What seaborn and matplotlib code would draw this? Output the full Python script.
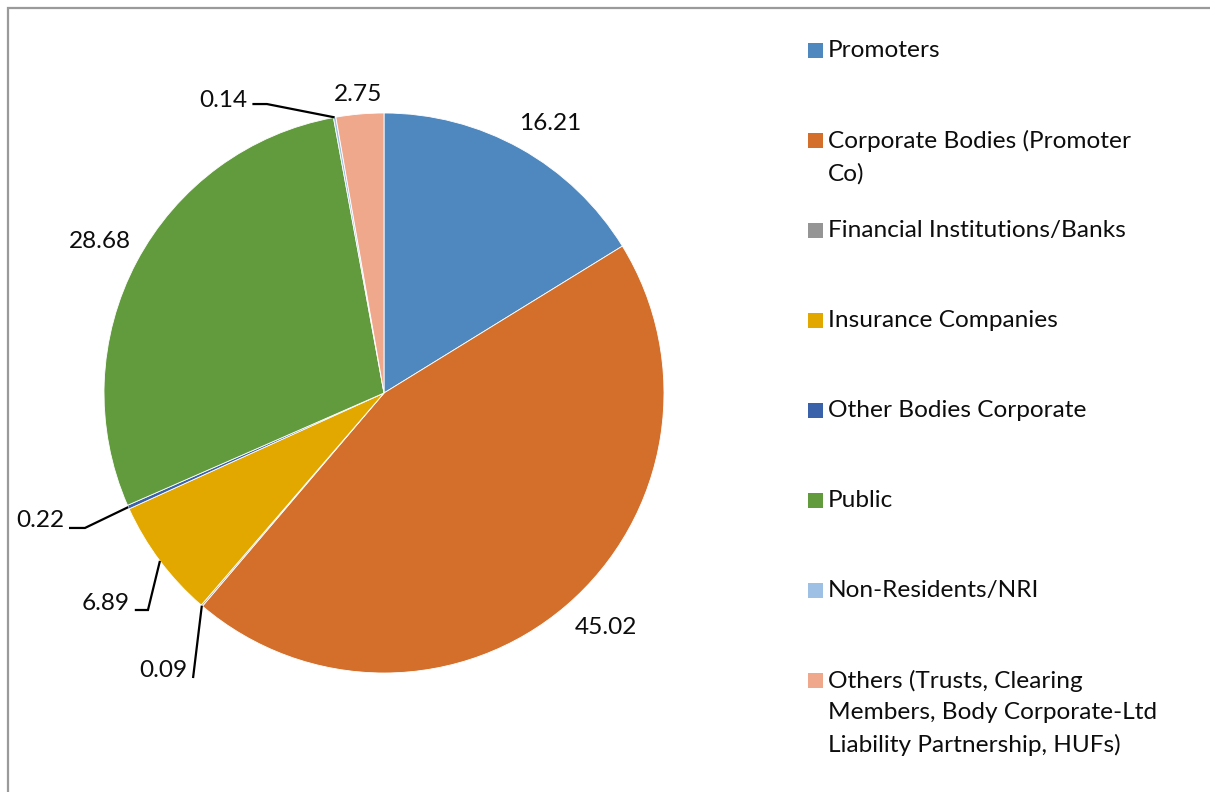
import matplotlib
matplotlib.use("Agg")
import matplotlib.pyplot as plt
from matplotlib.patches import Rectangle
import numpy as np
import seaborn as sns

# shareholding pattern (%)
categories = [
    "Promoters",
    "Corporate Bodies (Promoter\nCo)",
    "Financial Institutions/Banks",
    "Insurance Companies",
    "Other Bodies Corporate",
    "Public",
    "Non-Residents/NRI",
    "Others (Trusts, Clearing\nMembers, Body Corporate-Ltd\nLiability Partnership, HUFs)",
]
shares = [16.21, 45.02, 0.09, 6.89, 0.22, 28.68, 0.14, 2.75]
value_labels = ["16.21", "45.02", "0.09", "6.89", "0.22", "28.68", "0.14", "2.75"]

colors = ["#4F88BF", "#D46F2B", "#959595", "#E3A800",
          "#3A62AB", "#629B3E", "#9DC0E4", "#F0A88C"]

sns.set_theme(style="white")
plt.rcParams["font.family"] = ["Lato", "DejaVu Sans"]

W, H = 1210, 792
fig = plt.figure(figsize=(W / 100, H / 100), dpi=100)
fig.patch.set_facecolor("white")

# pie axes: center at (384, 393) px, radius 280 px
cx, cy, rpx = 384, 393, 280
half = 384
ax = fig.add_axes([(cx - half) / W, (H - cy - half) / H, 2 * half / W, 2 * half / H])
wedges, _ = ax.pie(shares, colors=colors, startangle=90, counterclock=False,
                   radius=1.0, wedgeprops=dict(edgecolor="white", linewidth=0.6))
lim = half / rpx
ax.set_xlim(-lim, lim)
ax.set_ylim(-lim, lim)
ax.set_aspect("auto")
ax.axis("off")

fs = 17.6
txt_col = "#0d0d0d"
# outside-end labels for the larger slices: (radius, angle shift in degrees)
label_pos = {0: (1.13, -2.5), 1: (1.155, 2.8), 5: (1.15, 0.0), 7: (1.07, 0.0)}
for i, (r, dth) in label_pos.items():
    w = wedges[i]
    th = np.deg2rad((w.theta1 + w.theta2) / 2 + dth)
    ax.text(r * np.cos(th), r * np.sin(th), value_labels[i], ha="center", va="center",
            fontsize=fs, color=txt_col)

# leader-line labels for the tiny slices: (text right end, knee) in pie units
leaders = {
    6: ((-0.487, 1.046), (-0.418, 1.032)),
    4: ((-1.142, -0.457), (-1.068, -0.482)),
    3: ((-0.907, -0.75), (-0.843, -0.775)),
    2: ((-0.702, -0.99), (-0.682, -1.018)),
}
for i, (tpos, knee) in leaders.items():
    w = wedges[i]
    th = np.deg2rad((w.theta1 + w.theta2) / 2)
    ex, ey = np.cos(th), np.sin(th)
    start = (tpos[0] + 0.017, knee[1]) if i != 2 else knee
    ax.plot([start[0], knee[0], ex], [start[1], knee[1], ey], color="black", lw=1.6,
            solid_capstyle="butt", solid_joinstyle="miter")
    ax.text(tpos[0], tpos[1], value_labels[i], ha="right", va="center",
            fontsize=fs, color=txt_col)

# legend drawn entry by entry: first line of each entry 90 px apart
lx_box, lx_text, ly0, step, box = 808, 828, 50, 90, 15
for i, (lab, col) in enumerate(zip(categories, colors)):
    y = ly0 + i * step
    fig.patches.append(Rectangle((lx_box / W, (H - y - box / 2) / H), box / W, box / H,
                                 transform=fig.transFigure, facecolor=col,
                                 edgecolor="none"))
    fig.text(lx_text / W, (H - y + 10) / H, lab, ha="left", va="top",
             fontsize=fs, color=txt_col, linespacing=1.6)

# chart frame (only left and top edges visible)
fig.patches.append(Rectangle((8 / W, -0.1), 1.2, (H - 8) / H + 0.1,
                             transform=fig.transFigure, fill=False,
                             edgecolor="#9A9A9A", linewidth=1.6))

fig.savefig("out.png", dpi=100, facecolor="white")
